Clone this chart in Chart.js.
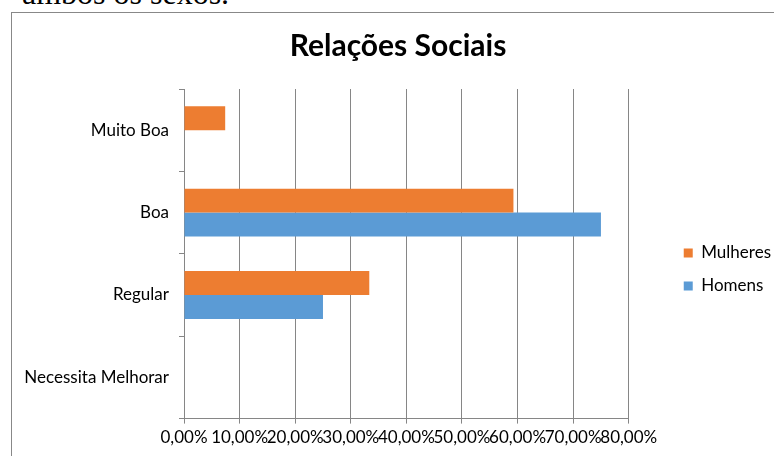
<!DOCTYPE html>
<html>
<head>
<meta charset="utf-8">
<script src="https://cdn.jsdelivr.net/npm/chart.js@4/dist/chart.umd.min.js"></script>
<style>
  html, body { margin: 0; padding: 0; background: #fff; overflow: hidden; }
  body { width: 774px; height: 456px; position: relative; }
  #caption { position: absolute; left: 22px; top: -23px; font: 32px/32px "Liberation Serif", serif; color: #000; white-space: nowrap; }
  #box { position: absolute; left: 11px; top: 12px; width: 800px; height: 480px; border: 1px solid #888; }
  #wrap { position: absolute; left: 12px; top: 13px; width: 762px; height: 443px; }
</style>
</head>
<body>
<div id="caption">ambos os sexos.</div>
<div id="box"></div>
<div id="wrap"><canvas id="chart"></canvas></div>
<script>
const categories = ['Muito Boa', 'Boa', 'Regular', 'Necessita Melhorar'];
const mulheres = [7.41, 59.26, 33.33, 0];
const homens = [0, 75, 25, 0];
const xTicks = [0, 10, 20, 30, 40, 50, 60, 70, 80];

const font = 'Lato, "Open Sans", sans-serif';
const gridColor = '#868686';

// legend sits further right and lower, title a bit right of where chart.js puts them
const nudge = {
    id: 'nudge',
    afterLayout(chart) {
        const lg = chart.legend;
        const w = lg.width;
        lg.left = chart.chartArea.right + 39;
        lg.right = lg.left + w;
        lg.top += 33;
        lg.bottom += 33;
        const t = chart.titleBlock;
        t.left += 21;
        t.right += 21;
    }
};

const chart = new Chart(document.getElementById('chart'), {
    type: 'bar',
    data: {
        labels: categories,
        datasets: [{
            label: 'Mulheres',
            data: mulheres,
            backgroundColor: '#ED7D31',
            categoryPercentage: 0.58,
            barPercentage: 1
        }, {
            label: 'Homens',
            data: homens,
            backgroundColor: '#5B9BD5',
            categoryPercentage: 0.58,
            barPercentage: 1
        }]
    },
    plugins: [nudge],
    options: {
        indexAxis: 'y',
        responsive: true,
        maintainAspectRatio: false,
        animation: false,
        layout: { padding: { top: 8, right: 32, bottom: 4, left: 0 } },
        plugins: {
            title: {
                display: true,
                text: 'Relações Sociais',
                color: '#000',
                font: { family: font, size: 30, weight: 'bold' },
                padding: { top: 7, bottom: 25 }
            },
            legend: {
                position: 'right',
                labels: {
                    color: '#000',
                    font: { family: font, size: 17 },
                    boxWidth: 9,
                    boxHeight: 9,
                    padding: 16
                }
            },
            tooltip: { enabled: false }
        },
        scales: {
            x: {
                min: 0,
                max: 80,
                afterBuildTicks: axis => { axis.ticks = xTicks.map(v => ({ value: v })); },
                ticks: {
                    autoSkip: false,
                    maxRotation: 0,
                    color: '#000',
                    padding: 4,
                    font: { family: font, size: 17 },
                    callback: v => v.toFixed(2).replace('.', ',') + '%'
                },
                grid: { color: gridColor, tickLength: 5 },
                border: { color: gridColor }
            },
            y: {
                afterFit: scale => { scale.width = 172; },
                ticks: {
                    color: '#000',
                    padding: 10,
                    font: { family: font, size: 17 }
                },
                grid: { drawOnChartArea: false, color: gridColor, tickLength: 5 },
                border: { color: gridColor }
            }
        }
    }
});
</script>
</body>
</html>
